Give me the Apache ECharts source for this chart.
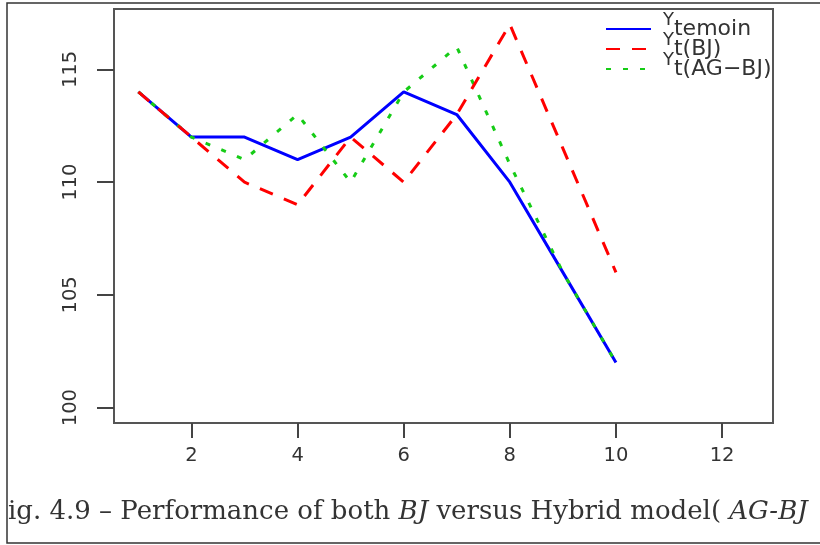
<!DOCTYPE html>
<html>
<head>
<meta charset="utf-8">
<script src="https://cdn.jsdelivr.net/npm/echarts@6/dist/echarts.min.js"></script>
<style>
html, body { margin: 0; padding: 0; background: #fff; }
#chart { width: 820px; height: 545px; }
</style>
</head>
<body>
<div id="chart"></div>
<script>
// valeurs
var xIndex = [1, 2, 3, 4, 5, 6, 7, 8, 9, 10];
var yTemoin = [114, 112, 112, 111, 112, 114, 113, 110, 106, 102];
var yBJ = [114, 112, 110, 109, 112, 110, 113, 117, 111.5, 106];
var yAGBJ = [114, 112, 111, 113, 110, 114, 116, 110.8, 106, 102];
var xTicks = [2, 4, 6, 8, 10, 12];
var yTicks = [100, 105, 110, 115];
var seriesNames = ['Ytemoin', 'Yt(BJ)', 'Yt(AG-BJ)'];
var legendSub = { 'Ytemoin': 'temoin', 'Yt(BJ)': 't(BJ)', 'Yt(AG-BJ)': 't(AG\u2212BJ)' };

function pairs(xs, ys) {
	var out = [];
	for (var i = 0; i < xs.length; i++) {
		out.push([xs[i], ys[i]]);
	}
	return out;
}

var chart = echarts.init(document.getElementById('chart'));
var option = {
	backgroundColor: '#fff',
	animation: false,
	title: {
		text: '{n|ig. 4.9 \u2013 Performance of both }{i|BJ}{n| versus Hybrid model( }{i|AG-BJ}',
		left: 8,
		top: 499,
		padding: 0,
		textStyle: {
			rich: {
				n: { fontFamily: 'DejaVu Serif', fontSize: 26, fontWeight: 'normal', color: '#333' },
				i: { fontFamily: 'DejaVu Serif', fontStyle: 'italic', fontWeight: 'normal', fontSize: 26, color: '#333' }
			}
		}
	},
	legend: {
		orient: 'vertical',
		left: 605,
		top: 11,
		padding: 0,
		itemWidth: 45,
		itemHeight: 20,
		itemGap: -16,
		selectedMode: false,
		data: seriesNames,
		itemStyle: { color: 'rgba(0,0,0,0)', borderWidth: 0 },
		formatter: function (name) {
			return '{y|Y}{s|' + legendSub[name] + '}';
		},
		textStyle: {
			color: '#333',
			rich: {
				y: { fontFamily: 'DejaVu Sans', fontSize: 18, lineHeight: 20, padding: [0, 0, 18, 7] },
				s: { fontFamily: 'DejaVu Sans', fontSize: 22, lineHeight: 20 }
			}
		}
	},
	grid: {
		left: 114,
		right: 47,
		top: 9,
		bottom: 122,
		show: true,
		borderColor: '#555',
		borderWidth: 2
	},
	xAxis: {
		type: 'value',
		min: 0.54,
		max: 12.96,
		splitLine: { show: false },
		axisLine: { show: true, onZero: false, lineStyle: { color: '#555', width: 2 } },
		axisTick: { show: true, customValues: xTicks, length: 15, lineStyle: { color: '#444', width: 2 } },
		axisLabel: { customValues: xTicks, fontFamily: 'DejaVu Sans', fontSize: 19.5, color: '#333', margin: 23 }
	},
	yAxis: {
		type: 'value',
		min: 99.32,
		max: 117.68,
		splitLine: { show: false },
		axisLine: { show: true, onZero: false, lineStyle: { color: '#555', width: 2 } },
		axisTick: { show: true, customValues: yTicks, length: 17, lineStyle: { color: '#444', width: 2 } },
		axisLabel: { customValues: yTicks, rotate: 90, fontFamily: 'DejaVu Sans', fontSize: 19.5, color: '#333', margin: 33 }
	},
	graphic: [{
		type: 'rect',
		silent: true,
		shape: { x: 7, y: 3, width: 840, height: 540 },
		style: { fill: 'none', stroke: '#333', lineWidth: 1.5 }
	}],
	series: [{
		name: 'Ytemoin',
		type: 'line',
		symbol: 'none',
		z: 2,
		data: pairs(xIndex, yTemoin),
		lineStyle: { color: '#0000ff', width: 3 },
		itemStyle: { color: '#0000ff' }
	}, {
		name: 'Yt(BJ)',
		type: 'line',
		symbol: 'none',
		z: 4,
		data: pairs(xIndex, yBJ),
		lineStyle: { color: '#ff0000', width: 3, type: [14, 12] },
		itemStyle: { color: '#ff0000' }
	}, {
		name: 'Yt(AG-BJ)',
		type: 'line',
		symbol: 'none',
		z: 3,
		data: pairs(xIndex, yAGBJ),
		lineStyle: { color: '#16cc16', width: 3, type: [5, 12] },
		itemStyle: { color: '#16cc16' }
	}]
};
chart.setOption(option);
</script>
</body>
</html>
